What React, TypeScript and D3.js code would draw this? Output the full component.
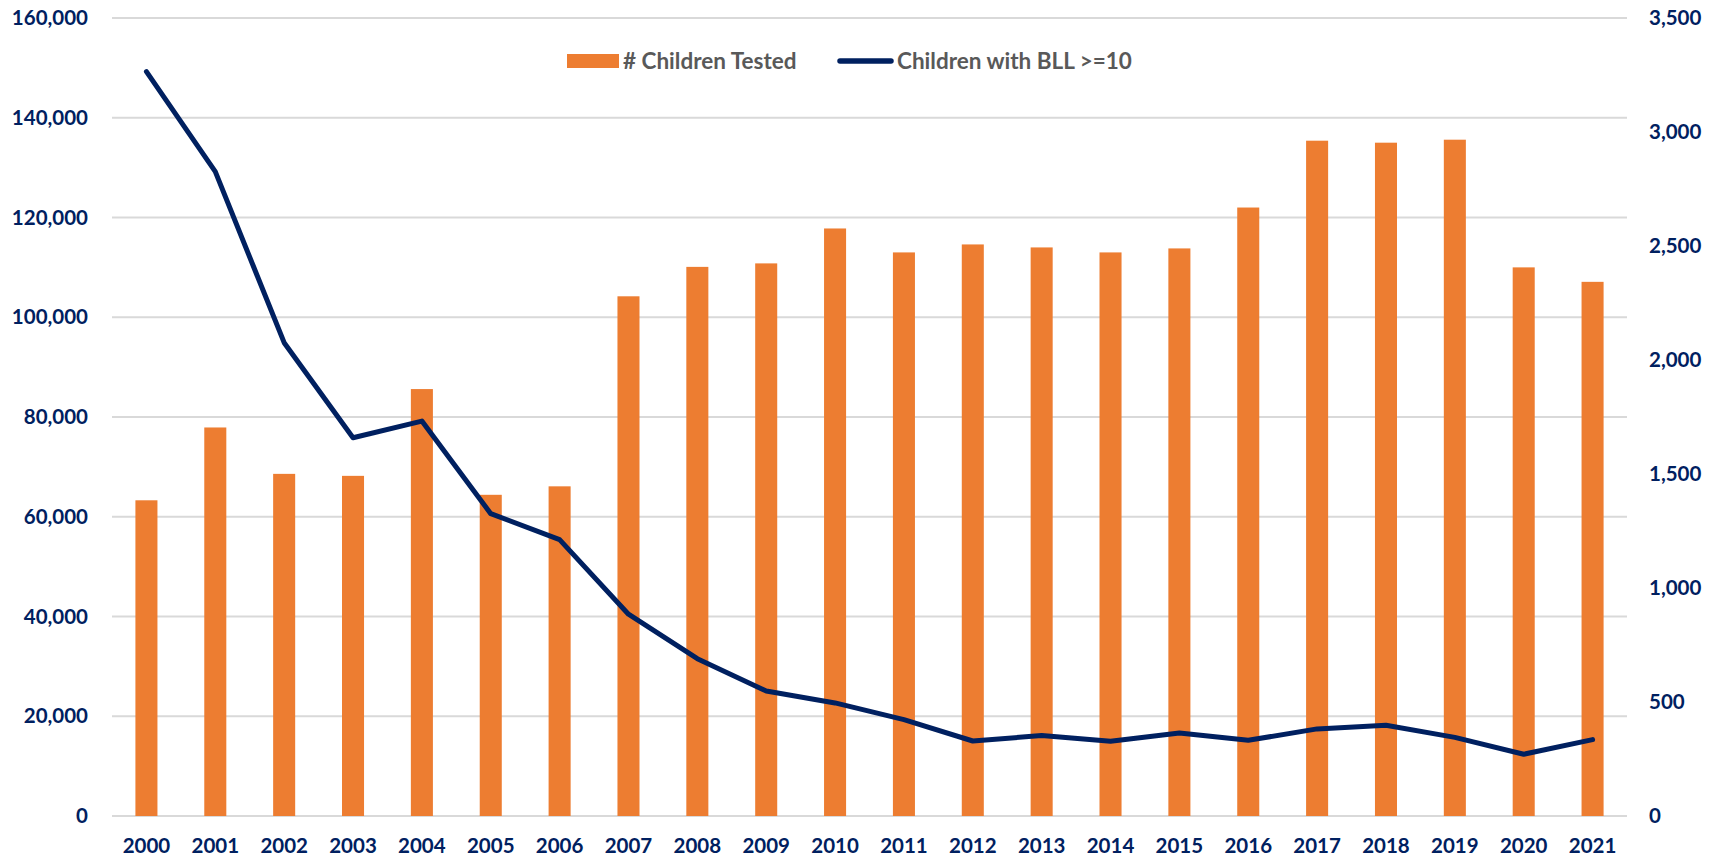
import React from 'react';
import * as d3 from 'd3';

const years = ['2000', '2001', '2002', '2003', '2004', '2005', '2006', '2007', '2008', '2009', '2010',
  '2011', '2012', '2013', '2014', '2015', '2016', '2017', '2018', '2019', '2020', '2021'];

// # Children Tested (left axis)
const childrenTested = [63300, 77900, 68600, 68200, 85600, 64400, 66100, 104200, 110100, 110800, 117800,
  113000, 114600, 114000, 113000, 113800, 122000, 135400, 135000, 135600, 110000, 107100];

// Children with BLL >= 10 (right axis)
const bllOver10 = [3265, 2826, 2076, 1659, 1732, 1326, 1212, 885, 690, 548, 496,
  423, 329, 353, 328, 364, 332, 382, 398, 345, 271, 335];

const leftTicks = [0, 20000, 40000, 60000, 80000, 100000, 120000, 140000, 160000];
const rightTicks = [0, 500, 1000, 1500, 2000, 2500, 3000, 3500];

const W = 1721;
const H = 859;
const margin = { top: 18, right: 94, bottom: 43, left: 112 };

const navy = '#002060';
const orange = '#ED7D31';
const font = 'Lato, "Open Sans", sans-serif';

const fmt = d3.format(',');

const App = () => {
  const x = d3.scaleBand()
    .domain(years)
    .range([margin.left, W - margin.right])
    .paddingInner(0.68)
    .paddingOuter(0.34);

  const yLeft = d3.scaleLinear().domain([0, 160000]).range([H - margin.bottom, margin.top]);
  const yRight = d3.scaleLinear().domain([0, 3500]).range([H - margin.bottom, margin.top]);

  const line = d3.line<number>()
    .x((d, i) => (x(years[i]) as number) + x.bandwidth() / 2)
    .y(d => yRight(d));

  return (
    <svg width={W} height={H} style={{ position: 'fixed', left: 0, top: 0, background: '#fff' }}>
      {/* gridlines */}
      {leftTicks.map(t => (
        <line key={'g' + t} x1={margin.left} x2={W - margin.right} y1={yLeft(t)} y2={yLeft(t)}
          stroke="#d9d9d9" strokeWidth={1.8} />
      ))}

      {/* left axis labels */}
      {leftTicks.map(t => (
        <text key={'l' + t} x={88} y={yLeft(t)} dy="0.35em" textAnchor="end"
          fontFamily={font} fontWeight="bold" fontSize={20.5} fill={navy}>{fmt(t)}</text>
      ))}

      {/* right axis labels */}
      {rightTicks.map(t => (
        <text key={'r' + t} x={1649} y={yRight(t)} dy="0.35em" textAnchor="start"
          fontFamily={font} fontWeight="bold" fontSize={20.5} fill={navy}>{fmt(t)}</text>
      ))}

      {/* bars */}
      {childrenTested.map((v, i) => (
        <rect key={'b' + i} x={x(years[i])} y={yLeft(v)} width={x.bandwidth()}
          height={yLeft(0) - yLeft(v)} fill={orange} />
      ))}

      {/* line */}
      <path d={line(bllOver10) || ''} fill="none" stroke={navy} strokeWidth={5}
        strokeLinejoin="round" strokeLinecap="round" />

      {/* x labels */}
      {years.map(yr => (
        <text key={'x' + yr} x={(x(yr) as number) + x.bandwidth() / 2} y={853} textAnchor="middle"
          fontFamily={font} fontWeight="bold" fontSize={20.5} fill={navy}>{yr}</text>
      ))}

      {/* legend */}
      <rect x={567} y={54} width={52} height={14} fill={orange} />
      <text x={623} y={61} dy="0.35em" fontFamily={font} fontWeight="bold" fontSize={22.5}
        fill="#595959">{'# Children Tested'}</text>
      <line x1={840} x2={891} y1={61} y2={61} stroke={navy} strokeWidth={5.5} strokeLinecap="round" />
      <text x={897} y={61} dy="0.35em" fontFamily={font} fontWeight="bold" fontSize={22.5}
        fill="#595959">{'Children with BLL >=10'}</text>
    </svg>
  );
};

export default App;
